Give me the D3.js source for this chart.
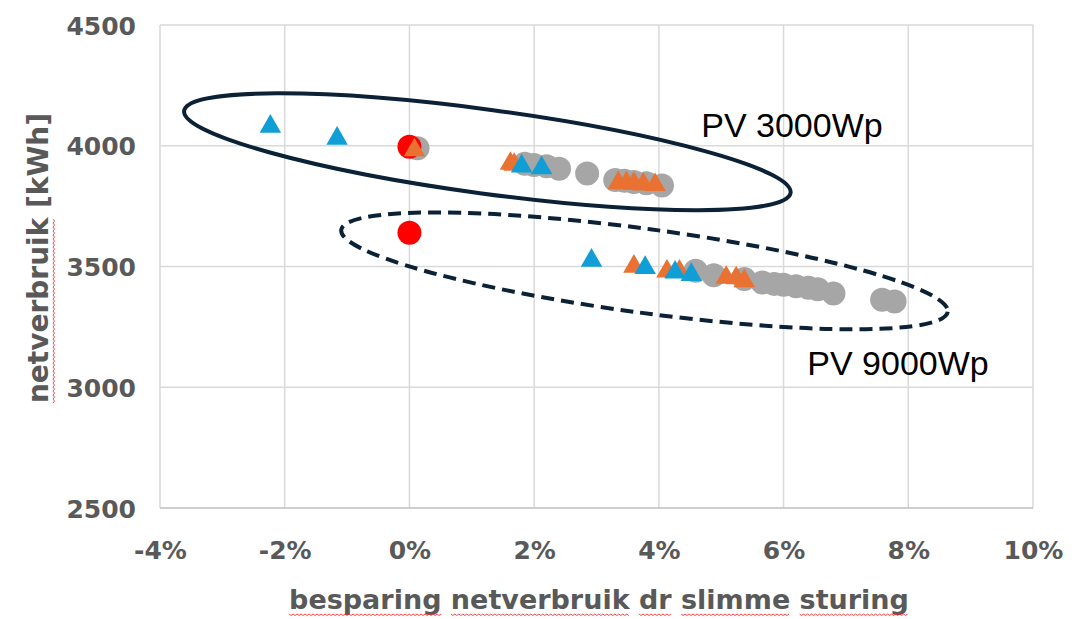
<!DOCTYPE html>
<html>
<head>
<meta charset="utf-8">
<script src="https://cdn.jsdelivr.net/npm/d3@7"></script>
<style>
  body { margin: 0; background: #fff; }
  text { font-family: "DejaVu Sans", sans-serif; }
</style>
</head>
<body>
<svg id="chart" width="1084" height="619"></svg>
<script>
// data: [besparing (%), netverbruik (kWh)]
var grayPoints = [
  [0.13, 3990], [1.85, 3925], [2.0, 3920], [2.2, 3915], [2.4, 3905], [2.85, 3885],
  [3.3, 3858], [3.45, 3855], [3.6, 3850], [3.8, 3845], [4.05, 3835],
  [4.59, 3482], [4.88, 3464], [5.37, 3448], [5.66, 3434], [5.85, 3428], [6.0, 3424],
  [6.2, 3418], [6.4, 3412], [6.55, 3406], [6.8, 3388], [7.58, 3362], [7.78, 3355]
];
var redPoints = [[0, 3996], [0, 3640]];
var orangePoints = [
  [0.08, 3982], [1.62, 3926], [1.68, 3922],
  [3.35, 3846], [3.48, 3846], [3.6, 3843], [3.75, 3840], [3.94, 3838],
  [3.6, 3500], [4.13, 3480], [4.33, 3480], [5.08, 3454], [5.24, 3452], [5.37, 3440]
];
var bluePoints = [
  [-2.23, 4080], [-1.16, 4030], [1.8, 3915], [2.12, 3908],
  [2.92, 3525], [3.78, 3495], [4.26, 3476], [4.52, 3466]
];
var xTicks = [-4, -2, 0, 2, 4, 6, 8, 10];
var yTicks = [2500, 3000, 3500, 4000, 4500];
var xTitle = "besparing netverbruik dr slimme sturing";
var yTitle = "netverbruik [kWh]";
// annotation groups: label and ellipse centre in data units
var groups = [
  {label: "PV 3000Wp", cx: 1.25, cy: 3975, lx: 4.68, ly: 4035, dashed: false},
  {label: "PV 9000Wp", cx: 3.77, cy: 3482, lx: 6.38, ly: 3050, dashed: true}
];

var svg = d3.select("#chart");
var margin = {left: 160, right: 1033, top: 25, bottom: 508};

var x = d3.scaleLinear().domain([-4, 10]).range([margin.left, margin.right]);
var y = d3.scaleLinear().domain([2500, 4500]).range([margin.bottom, margin.top]);

// gridlines
svg.append("g").selectAll("line.v").data(xTicks).enter().append("line")
  .attr("x1", d => x(d)).attr("x2", d => x(d))
  .attr("y1", y(4500)).attr("y2", y(2500))
  .attr("stroke", "#d9d9d9").attr("stroke-width", 1.5);
svg.append("g").selectAll("line.h").data(yTicks).enter().append("line")
  .attr("x1", x(-4)).attr("x2", x(10))
  .attr("y1", d => y(d)).attr("y2", d => y(d))
  .attr("stroke", d => d == 2500 ? "#bfbfbf" : "#d9d9d9").attr("stroke-width", 1.5);

// axis labels
var xAxis = svg.append("g").attr("transform", "translate(0," + (margin.bottom + 51) + ")")
  .call(d3.axisBottom(x).tickValues(xTicks).tickSize(0).tickFormat(d => d + "%"));
xAxis.select(".domain").remove();
xAxis.selectAll("text").attr("y", 0).attr("dy", 0)
  .style("font-size", "25px").style("font-weight", "bold").attr("fill", "#595959");

var yAxis = svg.append("g").attr("transform", "translate(" + (margin.left - 24) + ",0)")
  .call(d3.axisLeft(y).tickValues(yTicks).tickSize(0).tickFormat(d3.format("d")));
yAxis.select(".domain").remove();
yAxis.selectAll("text").attr("x", 0).attr("dy", "0.36em")
  .style("font-size", "25px").style("font-weight", "bold").attr("fill", "#595959");

// ellipses
var ellipse = {a: 306, b: 42, angle: 7.7};
groups.forEach(function(g){
  svg.append("ellipse")
    .attr("transform", "translate(" + x(g.cx) + "," + y(g.cy) + ") rotate(" + ellipse.angle + ")")
    .attr("rx", ellipse.a).attr("ry", ellipse.b)
    .attr("fill", "none").attr("stroke", "#0b2135").attr("stroke-width", 4)
    .attr("stroke-dasharray", g.dashed ? "13,7" : null);
});

// markers
function addCircles(pts, color){
  svg.append("g").selectAll("circle").data(pts).enter().append("circle")
    .attr("cx", d => x(d[0])).attr("cy", d => y(d[1])).attr("r", 12)
    .attr("fill", color);
}
var tri = d3.symbol().type(d3.symbolTriangle).size(200);
function addTriangles(pts, color){
  svg.append("g").selectAll("path").data(pts).enter().append("path")
    .attr("d", tri)
    .attr("transform", d => "translate(" + x(d[0]) + "," + y(d[1]) + ")")
    .attr("fill", color);
}
addCircles(grayPoints, "#a6a6a6");
addCircles(redPoints, "#ff0000");
addTriangles(orangePoints, "#e97132");
addTriangles(bluePoints, "#0f9ed5");

// group labels
groups.forEach(function(g){
  svg.append("text").attr("x", x(g.lx)).attr("y", y(g.ly))
    .style("font-family", "'Liberation Sans', Arial, sans-serif")
    .style("font-size", "34px").attr("fill", "#000")
    .text(g.label);
});

// axis titles
var xt = svg.append("text").attr("x", 599).attr("y", 609)
  .attr("text-anchor", "middle")
  .style("font-size", "27px").style("font-weight", "bold").attr("fill", "#595959")
  .text(xTitle);
var yt = svg.append("text")
  .attr("transform", "translate(48,258) rotate(-90)")
  .attr("text-anchor", "middle")
  .style("font-size", "28px").style("font-weight", "bold").attr("fill", "#595959")
  .text(yTitle);

// red spell-check squiggles under words
function squiggle(textEl, words){
  var node = textEl.node(), s = node.textContent;
  words.forEach(function(w){
    var i = s.indexOf(w);
    var x0 = node.getStartPositionOfChar(i).x, x1 = node.getEndPositionOfChar(i + w.length - 1).x;
    var y0 = node.getStartPositionOfChar(i).y + 5;
    var pts = [];
    for (var k = 0; x0 + k * 2 <= x1; k++) pts.push([x0 + k * 2, y0 + (k % 2 ? 1.5 : 0)]);
    d3.select(node.parentNode).append("path")
      .attr("transform", textEl.attr("transform"))
      .attr("d", d3.line()(pts)).attr("fill", "none")
      .attr("stroke", "#ff3030").attr("stroke-width", 0.9);
  });
}
squiggle(xt, ["besparing", "netverbruik", "dr", "slimme", "sturing"]);
squiggle(yt, ["netverbruik"]);
</script>
</body>
</html>
